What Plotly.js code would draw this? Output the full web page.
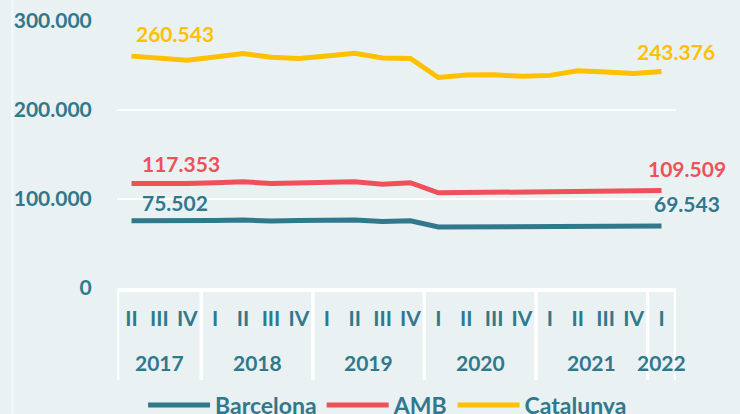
<!DOCTYPE html>
<html>
<head>
<meta charset="utf-8">
<script src="https://cdn.plot.ly/plotly-3.0.1.min.js"></script>
<style>html,body{margin:0;padding:0;background:#E9F1F3;}#chart{width:740px;height:414px;}</style>
</head>
<body>
<div id="chart"></div>
<script>
// ---- data ----
const quarters = ['II','III','IV','I','II','III','IV','I','II','III','IV','I','II','III','IV','I','II','III','IV','I'];
const years = ['2017','2017','2017','2018','2018','2018','2018','2019','2019','2019','2019','2020','2020','2020','2020','2021','2021','2021','2021','2022'];
const barcelona = [75502, 75200, 75400, 75900, 76300, 75300, 75800, 76300, 76500, 74600, 75500, 68500, 68600, 68700, 68800, 68900, 69200, 69300, 69400, 69543];
const amb = [117353, 117000, 117300, 118200, 119300, 117500, 118300, 119200, 119500, 116500, 118300, 106900, 107100, 107300, 107300, 107300, 108400, 108500, 108600, 109509];
const catalunya = [260543, 258200, 255800, 259500, 263500, 259200, 257800, 260700, 263800, 258400, 258000, 236500, 239200, 239600, 237800, 238900, 244000, 242600, 241000, 243376];
const seriesNames = ['Barcelona', 'AMB', 'Catalunya'];

// ---- style ----
const TEAL = '#31788C', RED = '#EE5159', YELLOW = '#FFC000', BG = '#E9F1F3';
const FONT = 'Lato, "Open Sans", sans-serif';
const colors = [TEAL, RED, YELLOW];
const labelOffsets = [
  {first: {xs: 8, ys: 18}, last: {xs: -10, ys: 23}},
  {first: {xs: 8, ys: 20}, last: {xs: -16, ys: 22}},
  {first: {xs: 2, ys: 23}, last: {xs: -27, ys: 20}}
];

const cats = years.map((y, i) => y + ' ' + quarters[i]);
const fmt = v => String(Math.round(v)).replace(/\B(?=(\d{3})+(?!\d))/g, '.');
const allSeries = [barcelona, amb, catalunya];

const traces = allSeries.map((s, k) => ({
  type: 'scatter', mode: 'lines', name: seriesNames[k],
  x: cats, y: s, line: {color: colors[k], width: 5}, hoverinfo: 'skip'
}));

const annotations = [];
allSeries.forEach((s, k) => {
  const n = s.length;
  [[0, 'first'], [n - 1, 'last']].forEach(([i, key]) => {
    annotations.push({
      x: cats[i], y: s[i], xref: 'x', yref: 'y', text: fmt(s[i]), showarrow: false,
      xanchor: 'left', yanchor: 'middle',
      xshift: labelOffsets[k][key].xs, yshift: labelOffsets[k][key].ys,
      font: {family: FONT, size: 21, color: colors[k], weight: 'bold'}
    });
  });
});

// year groups
const groups = [];
years.forEach((y, i) => {
  if (!groups.length || groups[groups.length - 1].year !== y) groups.push({year: y, start: i, end: i});
  else groups[groups.length - 1].end = i;
});
groups.forEach(g => {
  annotations.push({
    x: (g.start + g.end) / 2, xref: 'x', y: -0.278, yref: 'paper', text: g.year, showarrow: false,
    xanchor: 'center', yanchor: 'middle',
    font: {family: FONT, size: 21, color: TEAL, weight: 'bold'}
  });
});

const divY = -0.345;
const shapes = [];
const bounds = groups.map(g => g.start - 0.5).concat([groups[groups.length - 1].end + 0.5]);
bounds.forEach(b => shapes.push({
  type: 'line', xref: 'x', yref: 'paper', x0: b, x1: b, y0: 0, y1: divY,
  line: {color: '#FFFFFF', width: 3.5}, layer: 'above'
}));
shapes.push({type: 'line', xref: 'paper', yref: 'paper', x0: -0.187, x1: -0.187, y0: -0.48, y1: 1.1,
  line: {color: '#F6F9FA', width: 2}});

const layout = {
  width: 740, height: 414,
  margin: {l: 117, r: 64, t: 21, b: 126, autoexpand: false},
  paper_bgcolor: BG, plot_bgcolor: BG,
  separators: ',.',
  showlegend: true,
  legend: {orientation: 'h', x: 0.484, xanchor: 'center', y: -0.438, yanchor: 'middle',
    itemwidth: 62, font: {family: FONT, size: 23, color: TEAL, weight: 'bold'},
    bgcolor: 'rgba(0,0,0,0)', itemclick: false},
  xaxis: {
    type: 'category', range: [-0.52, 19.52], tickvals: cats, ticktext: quarters,
    showgrid: false, zeroline: false, showline: true, linecolor: '#FFFFFF', linewidth: 3.5,
    ticks: 'outside', ticklen: 9, tickcolor: 'rgba(0,0,0,0)',
    tickfont: {family: FONT, size: 21, color: TEAL, weight: 'bold'}, fixedrange: true
  },
  yaxis: {
    range: [0, 300000], tickvals: [0, 100000, 200000, 300000], tickformat: ',d',
    showgrid: true, gridcolor: '#FFFFFF', gridwidth: 1.5, zeroline: false, showline: false,
    ticks: 'outside', ticklen: 20, tickcolor: 'rgba(0,0,0,0)',
    tickfont: {family: FONT, size: 21, color: TEAL, weight: 'bold'}, fixedrange: true
  },
  annotations: annotations,
  shapes: shapes
};

Plotly.newPlot('chart', traces, layout, {displayModeBar: false, staticPlot: true});
</script>
</body>
</html>
